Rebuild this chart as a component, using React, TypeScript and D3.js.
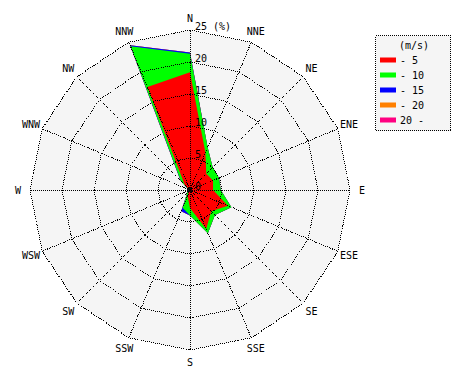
import React from "react";
import * as d3 from "d3";

const directions = ["N","NNE","NE","ENE","E","ESE","SE","SSE","S","SSW","SW","WSW","W","WNW","NW","NNW"];
const speedClasses = ["- 5","- 10","- 15","- 20","20 -"];
const speedColors = ["#ff0000","#00ff00","#0000ff","#ff8000","#ff0080"];
// frequency (%) per direction for each wind-speed class
const freq0to5 = [18.4,6.3,3.6,3.9,3.6,6.4,4.7,6.6,2.8,1.0,0.3,0.1,0.1,0.2,1.2,17.4];
const freq5to10 = [2.9,0.9,1.4,1.0,1.2,0.6,0.8,0.7,1.2,2.0,0.3,0.1,0.0,0.1,0.8,6.9];
const freq10to15 = [0.2,0,0,0,0,0,0,0,0,0.6,0,0,0,0,0.1,0.2];
const freq15to20 = [0,0,0,0,0,0,0,0,0,0,0,0,0,0,0,0];
const freq20plus = [0,0,0,0,0,0,0,0,0,0,0,0,0,0,0,0];
const ringValues = [5,10,15,20,25];
const ringLabels = ["0","5","10","15","20","25 (%)"];
const legendTitle = "(m/s)";

const W = 470, H = 380;
const cx = 190, cy = 190;
const FONT = "'DejaVu Sans Mono', 'Liberation Mono', monospace";

export default function App() {
  const r = d3.scaleLinear().domain([0, 25]).range([0, 160]);
  const angle = (i: number) => (i * 2 * Math.PI) / directions.length;
  const series = [freq0to5, freq5to10, freq10to15, freq15to20, freq20plus];
  // cumulative values
  const cumulative: number[][] = [];
  series.forEach((s, k) => {
    cumulative.push(s.map((v, i) => v + (k > 0 ? cumulative[k - 1][i] : 0)));
  });
  const radial = d3
    .lineRadial<number>()
    .angle((_, i) => angle(i))
    .radius((d) => r(d))
    .curve(d3.curveLinearClosed);
  const ringPath = (v: number) => radial(directions.map(() => v)) as string;
  const pt = (i: number, rad: number) => [
    cx + rad * Math.sin(angle(i)),
    cy - rad * Math.cos(angle(i)),
  ];
  const dotted = { stroke: "#000", strokeWidth: 1, strokeDasharray: "1,1", fill: "none" };

  return (
    <svg width={W} height={H} style={{ position: "absolute", left: 0, top: 0, background: "#fff" }}>
      <g transform={`translate(${cx},${cy})`}>
        <path d={ringPath(25)} fill="#f5f5f5" />
        {cumulative
          .map((c, k) => ({ c, k }))
          .reverse()
          .map(({ c, k }) => (
            <path key={k} d={radial(c) as string} fill={speedColors[k]} stroke="none" />
          ))}
        {ringValues.map((v) => (
          <path key={v} d={ringPath(v)} {...dotted} shapeRendering="crispEdges" />
        ))}
      </g>
      {directions.map((d, i) => {
        const [x, y] = pt(i, r(25));
        return (
          <line key={d} x1={cx} y1={cy} x2={x} y2={y} {...dotted} shapeRendering="crispEdges" />
        );
      })}
      <circle cx={cx} cy={cy} r={2} fill="#000" />
      {directions.map((d, i) => {
        const [x, y] = pt(i, 172);
        return (
          <text key={d} x={x} y={y} textAnchor="middle" dominantBaseline="central"
            fontFamily={FONT} fontSize={10} fill="#000">{d}</text>
        );
      })}
      {[0, ...ringValues].map((v, i) => (
        <text key={v} x={cx + 5} y={cy - r(v) - 0.5} fontFamily={FONT} fontSize={10} fill="#000">
          {ringLabels[i]}
        </text>
      ))}
      <g>
        <rect x={375.5} y={35.5} width={75} height={95} fill="#f5f5f5" {...{ stroke: "#000", strokeDasharray: "1,1" }} shapeRendering="crispEdges" />
        <text x={414} y={45} textAnchor="middle" dominantBaseline="central" fontFamily={FONT} fontSize={10}>{legendTitle}</text>
        {speedClasses.map((s, k) => (
          <g key={s}>
            <rect x={380} y={60 + k * 15 - 2.5} width={16} height={5} fill={speedColors[k]} />
            <text x={400} y={60 + k * 15} dominantBaseline="central" fontFamily={FONT} fontSize={10}>{s}</text>
          </g>
        ))}
      </g>
    </svg>
  );
}
